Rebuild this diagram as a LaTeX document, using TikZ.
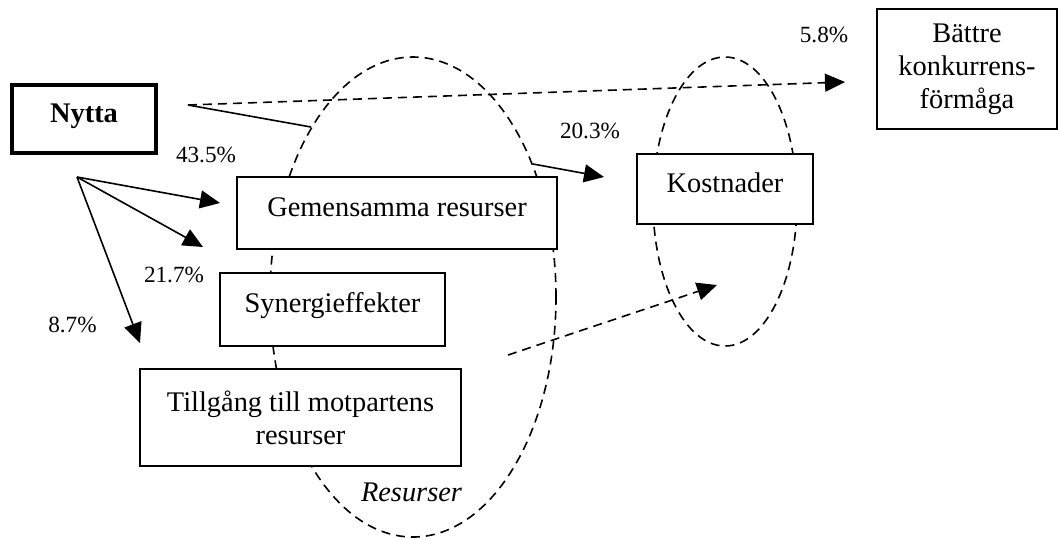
\documentclass[tikz,border=0pt]{standalone}
\usepackage{fontspec}
\setmainfont{Liberation Serif}
\usetikzlibrary{arrows.meta}
\begin{document}
\begin{tikzpicture}[x=0.5pt,y=-0.5pt,
  every node/.style={font=\fontsize{14.2}{16.4}\selectfont},
  box/.style={draw, line width=0.9pt, fill=white, inner sep=0pt, align=center},
  onebox/.style={box, text height=10pt, text depth=7pt},
  pct/.style={font=\fontsize{11.6}{14}\selectfont, inner sep=0pt},
  dsh/.style={dash pattern=on 4.5pt off 3pt, line width=0.8pt},
  arr/.style={-{Triangle[length=10pt,width=9pt]}},
  conn/.style={line width=0.8pt}]
\useasboundingbox (0,0) rectangle (1058,538);
% groupings
\draw[dsh] (413,297) ellipse [x radius=71.5pt, y radius=120pt];
\draw[dsh] (725,201.5) ellipse [x radius=36pt, y radius=72.25pt];
% boxes
\node[onebox, line width=2.3pt, minimum width=72pt, minimum height=34pt,
      font=\fontsize{14.2}{16.4}\selectfont\bfseries] (nytta) at (84,119) {Nytta};
\node[onebox, minimum width=160pt, minimum height=36pt] (gem) at (397,213) {Gemensamma resurser};
\node[onebox, minimum width=112.5pt, minimum height=36.5pt] (syn) at (332.5,309.5) {Synergieffekter};
\node[box, minimum width=160.5pt, minimum height=48.5pt] (till) at (300.5,417.5) {Tillgång till motpartens\\resurser};
\node[onebox, minimum width=88pt, minimum height=35pt] (kost) at (725,189) {Kostnader};
\node[box, minimum width=90pt, minimum height=60pt] (batt) at (967,69) {Bättre\\konkurrens-\\förmåga};
% labels
\node[pct] (p435) at (206,155) {43.5\%};
\node[pct] (p217) at (174,274.5) {21.7\%};
\node[pct] (p87) at (72.5,324.5) {8.7\%};
\node[pct] (p203) at (590,130.5) {20.3\%};
\node[pct] (p58) at (824,35) {5.8\%};
\node[font=\fontsize{14.2}{16.4}\selectfont\itshape, inner sep=0pt] (res) at (411.5,492.5) {Resurser};
% connector end points
\coordinate (fan) at (77,177);
\coordinate (fanA) at (220,203);
\coordinate (fanB) at (203,247);
\coordinate (fanC) at (140,343);
\coordinate (ns) at (188,105);
\coordinate (nsEnd) at (311,127);
\coordinate (nbTip) at (845,82);
\coordinate (kS) at (533,164);
\coordinate (kT) at (604,177);
\coordinate (lS) at (508,355);
\coordinate (lT) at (717,285);
% connectors
\draw[conn, arr] (fan) -- (fanA);
\draw[conn, arr] (fan) -- (fanB);
\draw[conn, arr] (fan) -- (fanC);
\draw[conn] (ns) -- (nsEnd);
\draw[dsh, arr] (ns) -- (nbTip);
\draw[conn, arr] (kS) -- (kT);
\draw[dsh, arr] (lS) -- (lT);
\end{tikzpicture}
\end{document}
